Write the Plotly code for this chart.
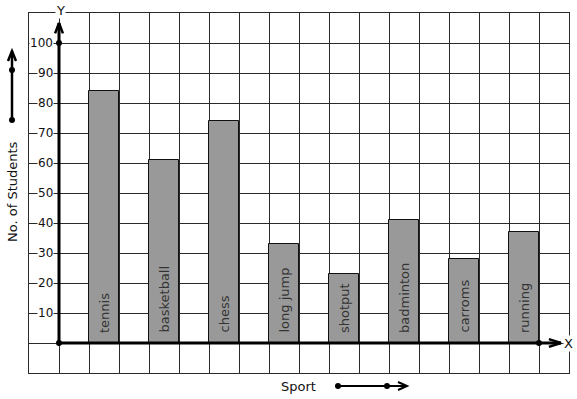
import plotly.graph_objects as go

# ---- data ----
sports = ["tennis", "basketball", "chess", "long jump", "shotput", "badminton", "carroms", "running"]
students = [84, 61, 74, 33, 23, 41, 28, 37]
y_ticks = [10, 20, 30, 40, 50, 60, 70, 80, 90, 100]
y_tick_labels = [str(v) for v in y_ticks]

W, H = 577, 399
L, R, T, B = 29, 8, 13, 26
PW, PH = W - L - R, H - T - B

def px(xp):
    return (xp - L) / PW

def py(yp):
    return (H - B - yp) / PH

FONT = "DejaVu Sans"
GRID = "#2a2a2a"

# bar positions on the square-grid (one cell wide, one cell gap)
xpos = [1.5 + 2 * i for i in range(len(sports))]

fig = go.Figure()
fig.add_trace(go.Bar(
    x=xpos, y=students, width=1.0,
    marker=dict(color="#999999", line=dict(color="#111111", width=1)),
    hoverinfo="skip", showlegend=False,
))

# axes (thick lines from origin)
fig.add_trace(go.Scatter(x=[0, 0], y=[0, 106.7], mode="lines",
                         line=dict(color="black", width=3), showlegend=False, hoverinfo="skip"))
fig.add_trace(go.Scatter(x=[0, 16.73], y=[0, 0], mode="lines",
                         line=dict(color="black", width=3), showlegend=False, hoverinfo="skip"))
# chevrons
fig.add_trace(go.Scatter(x=[-0.13, 0, 0.13], y=[103.2, 106.7, 103.2], mode="lines",
                         line=dict(color="black", width=2.5), showlegend=False, hoverinfo="skip"))
fig.add_trace(go.Scatter(x=[16.33, 16.73, 16.33], y=[1.3, 0, -1.3], mode="lines",
                         line=dict(color="black", width=2.5), showlegend=False, hoverinfo="skip"))
# dots
fig.add_trace(go.Scatter(x=[0, 0, 16], y=[0, 100, 0], mode="markers",
                         marker=dict(color="black", size=6), showlegend=False, hoverinfo="skip"))

annotations = []
for v, lab in zip(y_ticks, y_tick_labels):
    annotations.append(dict(x=0, y=v, xref="x", yref="y", text=lab, showarrow=False,
                            xanchor="right", yanchor="middle", xshift=-5,
                            bgcolor="white", borderpad=0,
                            font=dict(family=FONT, size=12, color="#111111")))
for xv, s in zip(xpos, sports):
    annotations.append(dict(x=xv, y=0, xref="x", yref="y", text=s, showarrow=False,
                            textangle=-90, xanchor="center", yanchor="bottom", yshift=8,
                            font=dict(family=FONT, size=13, color="#333333")))

annotations += [
    dict(x=px(60), y=py(10), xref="paper", yref="paper", text="Y", showarrow=False,
         xanchor="center", yanchor="middle", bgcolor="white", borderpad=0,
         font=dict(family=FONT, size=13, color="#111111")),
    dict(x=px(568), y=py(343), xref="paper", yref="paper", text="X", showarrow=False,
         xanchor="center", yanchor="middle", bgcolor="white", borderpad=0,
         font=dict(family=FONT, size=13, color="#111111")),
    dict(x=px(12), y=py(192), xref="paper", yref="paper", text="No. of Students", showarrow=False,
         textangle=-90, xanchor="center", yanchor="middle",
         font=dict(family=FONT, size=13, color="#111111")),
    dict(x=px(298), y=py(386), xref="paper", yref="paper", text="Sport", showarrow=False,
         xanchor="center", yanchor="middle",
         font=dict(family=FONT, size=13, color="#111111")),
]

shapes = []
# left arrow (vertical)
shapes.append(dict(type="line", xref="paper", yref="paper", x0=px(12), x1=px(12),
                   y0=py(120), y1=py(51), line=dict(color="black", width=2.5)))
shapes.append(dict(type="path", xref="paper", yref="paper",
                   path=f"M {px(8)},{py(61)} L {px(12)},{py(51)} L {px(16)},{py(61)}",
                   line=dict(color="black", width=2.5)))
# bottom arrow (horizontal)
shapes.append(dict(type="line", xref="paper", yref="paper", x0=px(338), x1=px(407),
                   y0=py(386), y1=py(386), line=dict(color="black", width=2)))
shapes.append(dict(type="path", xref="paper", yref="paper",
                   path=f"M {px(398)},{py(382)} L {px(407)},{py(386)} L {px(398)},{py(390)}",
                   line=dict(color="black", width=2)))
for cx, cy in [(12, 120), (12, 70), (338, 386), (387, 386)]:
    shapes.append(dict(type="circle", xref="paper", yref="paper", xsizemode="pixel", ysizemode="pixel",
                       xanchor=px(cx), yanchor=py(cy), x0=-3, x1=3, y0=-3, y1=3,
                       fillcolor="black", line=dict(color="black", width=0)))

fig.update_layout(
    width=W, height=H, autosize=False,
    margin=dict(l=L, r=R, t=T, b=B, pad=0),
    paper_bgcolor="white", plot_bgcolor="white",
    showlegend=False, bargap=0,
    xaxis=dict(range=[-1, 17], tick0=0, dtick=1, showgrid=True, gridcolor=GRID, gridwidth=1,
               zeroline=False, showticklabels=False, ticks="", showline=True, mirror=True,
               linecolor=GRID, linewidth=1, fixedrange=True),
    yaxis=dict(range=[-10, 110], tick0=0, dtick=10, showgrid=True, gridcolor=GRID, gridwidth=1,
               zeroline=False, showticklabels=False, ticks="", showline=True, mirror=True,
               linecolor=GRID, linewidth=1, fixedrange=True),
    annotations=annotations, shapes=shapes,
)

fig.write_html("out.html", config={"displayModeBar": False},
               post_script="document.body.style.margin='0';document.body.style.overflow='hidden';")
